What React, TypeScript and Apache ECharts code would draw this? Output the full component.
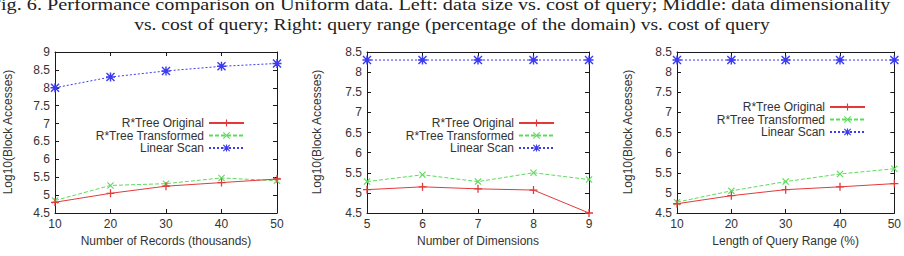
import React, { useEffect, useRef } from "react";
import * as echarts from "echarts";

const titleLine1 = "Fig. 6. Performance comparison on Uniform data. Left: data size vs. cost of query; Middle: data dimensionality";
const titleLine2 = "vs. cost of query; Right: query range (percentage of the domain) vs. cost of query";

const seriesNames = ["R*Tree Original", "R*Tree Transformed", "Linear Scan"];
const yTitle = "Log10(Block Accesses)";

// Chart 1: data size
const records = [10, 20, 30, 40, 50];
const recOriginal = [4.8, 5.05, 5.25, 5.35, 5.45];
const recTransformed = [4.85, 5.27, 5.32, 5.48, 5.4];
const recLinear = [8.0, 8.3, 8.47, 8.6, 8.68];

// Chart 2: dimensionality
const dims = [5, 6, 7, 8, 9];
const dimOriginal = [5.08, 5.15, 5.1, 5.07, 4.5];
const dimTransformed = [5.28, 5.45, 5.28, 5.5, 5.33];
const dimLinear = [8.3, 8.3, 8.3, 8.3, 8.3];

// Chart 3: query range
const ranges = [10, 20, 30, 40, 50];
const rngOriginal = [4.73, 4.93, 5.08, 5.15, 5.23];
const rngTransformed = [4.77, 5.05, 5.28, 5.47, 5.6];
const rngLinear = [8.3, 8.3, 8.3, 8.3, 8.3];

const PLUS = "path://M4.2,0H5.8V4.2H10V5.8H5.8V10H4.2V5.8H0V4.2H4.2Z";
const CROSS = "path://M1.1,0L5,3.9L8.9,0L10,1.1L6.1,5L10,8.9L8.9,10L5,6.1L1.1,10L0,8.9L3.9,5L0,1.1Z";
const STAR = PLUS + "M1.1,0L5,3.9L8.9,0L10,1.1L6.1,5L10,8.9L8.9,10L5,6.1L1.1,10L0,8.9L3.9,5L0,1.1Z";

const RED = "#e23a3a";
const GREEN = "#5cdc5c";
const BLUE = "#3b3bf2";
const FRAME = "#1a1a1a";
const TEXT = "#333";
const FONT = "Liberation Sans, Arial, sans-serif";
const SERIF = "17px 'Liberation Serif', 'Times New Roman', serif";

export default function App() {
  const ref = useRef<HTMLDivElement>(null);
  useEffect(() => {
    if (!ref.current) return;
    const chart = echarts.init(ref.current, null, { renderer: "svg" });

    const grids = [
      { left: 55, top: 52, width: 222, height: 161 },
      { left: 367, top: 52, width: 222, height: 161 },
      { left: 677, top: 52, width: 221, height: 161 },
    ];
    const xSpecs = [
      { min: 10, max: 50, interval: 10, name: "Number of Records (thousands)" },
      { min: 5, max: 9, interval: 1, name: "Number of Dimensions" },
      { min: 10, max: 50, interval: 10, name: "Length of Query Range (%)" },
    ];
    const ySpecs = [
      { min: 4.5, max: 9, interval: 0.5 },
      { min: 4.5, max: 8.5, interval: 0.5 },
      { min: 4.5, max: 8.5, interval: 0.5 },
    ];
    const xData = [records, dims, ranges];
    const dataSets = [
      [recOriginal, recTransformed, recLinear],
      [dimOriginal, dimTransformed, dimLinear],
      [rngOriginal, rngTransformed, rngLinear],
    ];

    const axisLine = { show: true, lineStyle: { color: FRAME, width: 1 } };
    const axisTick = { show: true, inside: true, length: 4, lineStyle: { color: FRAME, width: 1 } };

    const xAxis: any[] = [];
    const yAxis: any[] = [];
    grids.forEach((_, i) => {
      xAxis.push({
        type: "value", gridIndex: i, position: "bottom",
        min: xSpecs[i].min, max: xSpecs[i].max, interval: xSpecs[i].interval,
        axisLine, axisTick, splitLine: { show: false },
        axisLabel: { color: TEXT, fontSize: 12, fontFamily: FONT, margin: 5 },
        name: xSpecs[i].name, nameLocation: "middle", nameGap: 22,
        nameTextStyle: { color: TEXT, fontSize: 12, fontFamily: FONT },
      });
      xAxis.push({
        type: "value", gridIndex: i, position: "top",
        min: xSpecs[i].min, max: xSpecs[i].max, interval: xSpecs[i].interval,
        axisLine, axisTick, splitLine: { show: false }, axisLabel: { show: false },
      });
      yAxis.push({
        type: "value", gridIndex: i, position: "left",
        min: ySpecs[i].min, max: ySpecs[i].max, interval: ySpecs[i].interval,
        axisLine, axisTick, splitLine: { show: false },
        axisLabel: { color: TEXT, fontSize: 12, fontFamily: FONT, margin: 5 },
      });
      yAxis.push({
        type: "value", gridIndex: i, position: "right",
        min: ySpecs[i].min, max: ySpecs[i].max, interval: ySpecs[i].interval,
        axisLine, axisTick, splitLine: { show: false }, axisLabel: { show: false },
      });
    });

    const styles = [
      { color: RED, symbol: PLUS, size: 8, dash: "solid" as any },
      { color: GREEN, symbol: CROSS, size: 7, dash: [4, 2] },
      { color: BLUE, symbol: STAR, size: 9, dash: [2, 2] },
    ];

    const series: any[] = [];
    dataSets.forEach((set, i) => {
      set.forEach((vals, k) => {
        const s = styles[k];
        series.push({
          type: "line", name: seriesNames[k],
          xAxisIndex: i * 2, yAxisIndex: i * 2,
          data: vals.map((v, j) => [xData[i][j], v]),
          symbol: s.symbol, symbolSize: s.size, showSymbol: true,
          lineStyle: { color: s.color, width: 1, type: s.dash },
          itemStyle: { color: s.color, borderWidth: 0 },
          emphasis: { disabled: true },
          z: 3 - k + 2,
        });
      });
    });

    const legendPos = [
      { right: 904 - 245 - 5, top: 112 },
      { right: 904 - 555 - 5, top: 112 },
      { right: 904 - 866 - 5, top: 96 },
    ];
    const legend = legendPos.map((p) => ({
      orient: "vertical", align: "right",
      right: p.right, top: p.top,
      itemWidth: 35, itemHeight: 9, itemGap: 0.5,
      selectedMode: false,
      data: seriesNames,
      textStyle: { color: TEXT, fontSize: 12, lineHeight: 12, fontFamily: FONT },
    }));

    const yTitleX = [8, 317, 628];
    const graphic: any[] = [
      {
        type: "text", x: 440, y: 4, scaleX: 1.19,
        style: {
          text: titleLine1, x: 0, y: 0, textAlign: "center", textVerticalAlign: "middle",
          font: SERIF, fill: "#222",
        },
      },
      {
        type: "text", x: 452, y: 24, scaleX: 1.15,
        style: {
          text: titleLine2, x: 0, y: 0, textAlign: "center", textVerticalAlign: "middle",
          font: SERIF, fill: "#222",
        },
      },
      ...yTitleX.map((x) => ({
        type: "text", x, y: 132, rotation: Math.PI / 2,
        style: {
          text: yTitle, x: 0, y: 0, textAlign: "center", textVerticalAlign: "middle",
          font: `12px ${FONT}`, fill: TEXT,
        },
      })),
    ];

    chart.setOption({
      animation: false,
      backgroundColor: "#fff",
      grid: grids,
      xAxis, yAxis, series, legend, graphic,
    });
    return () => chart.dispose();
  }, []);
  return <div ref={ref} style={{ position: "fixed", left: 0, top: 0, width: 904, height: 256 }} />;
}
